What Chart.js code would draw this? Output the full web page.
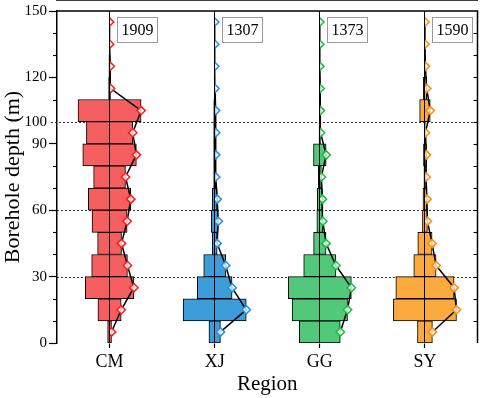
<!DOCTYPE html>
<html><head><meta charset="utf-8">
<script src="https://cdn.jsdelivr.net/npm/chart.js@4/dist/chart.umd.min.js"></script>
<style>html,body{margin:0;padding:0;background:#fff}#wrap{width:484px;height:398px}</style>
</head><body><div id="wrap"><canvas id="c" width="484" height="398"></canvas></div>
<script>
// ---- data ----
const regions = ['CM', 'XJ', 'GG', 'SY'];
const totals = [1909, 1307, 1373, 1590];
const binCenters = [5, 15, 25, 35, 45, 55, 65, 75, 85, 95, 105, 115, 125, 135, 145];
const cmCounts = [18, 108, 226, 166, 111, 163, 197, 148, 249, 215, 293, 9, 6, 0, 0];
const xjCounts = [96, 526, 290, 183, 41, 58, 41, 17, 17, 17, 16, 5, 0, 0, 0];
const ggCounts = [240, 325, 370, 189, 73, 35, 30, 18, 74, 9, 6, 4, 0, 0, 0];
const syCounts = [117, 495, 457, 175, 112, 39, 31, 16, 23, 8, 83, 27, 7, 0, 0];
const yTickLabels = [0, 30, 60, 90, 100, 120, 150];
const dottedDepths = [30, 60, 100];

// ---- styles ----
const barColors = ['#F65F5F', '#3C9DD8', '#52C97A', '#FBAA3E'];
const markColors = ['#FF1A1A', '#1E90E8', '#10C040', '#FF8A00'];
const HALF_MAX = 0.30;
const SERIF = 'Liberation Serif';

const counts = [cmCounts, xjCounts, ggCounts, syCounts];
const datasets = [];
counts.forEach((c, i) => {
  const mx = Math.max(...c);
  datasets.push({
    type: 'bar',
    data: binCenters.map((d, k) => ({ y: d, x: [i - c[k] / mx * HALF_MAX, i + c[k] / mx * HALF_MAX] })),
    backgroundColor: barColors[i], borderColor: '#000', borderWidth: 1, borderSkipped: false,
    grouped: false, barPercentage: 1, categoryPercentage: 1, order: 2
  });
});
counts.forEach((c, i) => {
  const mx = Math.max(...c);
  datasets.push({
    type: 'line', region: i, indexAxis: 'y',
    data: binCenters.map((d, k) => ({ y: d, x: i + c[k] / mx * HALF_MAX })),
    borderColor: '#000', borderWidth: 1.5, fill: false, tension: 0,
    pointStyle: 'rectRot', pointRadius: 4.2, pointBorderWidth: 1.5,
    pointBorderColor: markColors[i], pointBackgroundColor: 'rgba(255,255,255,0.8)', order: 1
  });
});

const decor = {
  id: 'decor',
  beforeDatasetsDraw(chart) {
    const { ctx, chartArea: a } = chart; const ys = chart.scales.y;
    ctx.save(); ctx.strokeStyle = '#222'; ctx.lineWidth = 0.9; ctx.setLineDash([2, 2]);
    dottedDepths.forEach(d => {
      const py = Math.round(ys.getPixelForValue(d)) + 0.5;
      ctx.beginPath(); ctx.moveTo(d % 30 === 0 ? a.left : a.left - 6, py); ctx.lineTo(a.right, py); ctx.stroke();
    });
    ctx.restore();
  },
  beforeDatasetDraw(chart, args) {
    const ds = chart.data.datasets[args.index];
    if (ds.region === undefined) return;
    const { ctx, chartArea: a } = chart;
    const px = chart.scales.x.getPixelForValue(ds.region);
    ctx.save(); ctx.beginPath(); ctx.rect(px, a.top - 6, a.right - px, a.bottom - a.top + 6); ctx.clip();
  },
  afterDatasetDraw(chart, args) {
    const ds = chart.data.datasets[args.index];
    if (ds.region === undefined) return;
    chart.ctx.restore();
  },
  afterDraw(chart) {
    const { ctx, chartArea: a } = chart; const ys = chart.scales.y, xs = chart.scales.x;
    ctx.save();
    ctx.strokeStyle = '#000'; ctx.lineWidth = 1.5;
    ctx.beginPath(); ctx.moveTo(a.left, a.top); ctx.lineTo(a.right, a.top); ctx.lineTo(a.right, a.bottom); ctx.stroke();
    ctx.lineWidth = 1.1;
    for (let v = 10; v < 150; v += 10) {
      const py = Math.round(ys.getPixelForValue(v)) + 0.5;
      if (v % 30 !== 0 && v !== 100) { ctx.beginPath(); ctx.moveTo(a.left - 4, py); ctx.lineTo(a.left, py); ctx.stroke(); }
      ctx.beginPath(); ctx.moveTo(a.right - 4, py); ctx.lineTo(a.right, py); ctx.stroke();
    }
    // count boxes
    ctx.font = '16px "' + SERIF + '"'; ctx.textAlign = 'center'; ctx.textBaseline = 'middle';
    totals.forEach((t, i) => {
      const bx = Math.round(xs.getPixelForValue(i) + 7) + 0.5, by = Math.round(a.top + 6) + 0.5, bw = 40, bh = 25;
      ctx.fillStyle = '#fff'; ctx.fillRect(bx, by, bw, bh);
      ctx.strokeStyle = '#9a9a9a'; ctx.lineWidth = 1; ctx.strokeRect(bx, by, bw, bh);
      ctx.fillStyle = '#000'; ctx.fillText(String(t), bx + bw / 2, by + bh / 2 + 1);
    });
    ctx.restore();
  }
};

new Chart(document.getElementById('c'), {
  type: 'bar',
  data: { datasets },
  options: {
    responsive: false, animation: false, devicePixelRatio: 1, indexAxis: 'y',
    layout: { autoPadding: false, padding: { left: 0, top: 7, right: 6.5, bottom: 0 } },
    plugins: { legend: { display: false }, tooltip: { enabled: false } },
    scales: {
      x: {
        type: 'linear', min: -0.5, max: 3.5, offset: false,
        afterBuildTicks(s) { s.ticks = regions.map((_, i) => ({ value: i })); },
        afterFit(s) { s.height = 55; },
        ticks: { callback: (v) => regions[v] ?? '', color: '#000', font: { family: SERIF, size: 18 }, padding: 3, maxRotation: 0, autoSkip: false },
        grid: { display: true, drawOnChartArea: true, color: '#000', lineWidth: 1, tickLength: 5, tickColor: '#000', tickWidth: 1.2, z: 1, offset: false },
        border: { display: true, color: '#000', width: 1.5 },
        title: { display: true, text: 'Region', font: { family: SERIF, size: 21 }, color: '#000', padding: { top: 0, bottom: 1 } }
      },
      y: {
        type: 'linear', min: 0, max: 150, offset: false, position: 'left',
        afterFit(s) { s.width = 57; },
        ticks: { stepSize: 10, autoSkip: false, padding: 2, color: '#000', font: { family: SERIF, size: 15 },
          callback: (v) => yTickLabels.includes(v) ? String(v) : '' },
        grid: { offset: false, drawOnChartArea: false, drawTicks: true, tickLength: 8, tickWidth: 1.2,
          tickColor: (c) => (c.tick && c.tick.value % 30 === 0) ? '#000' : 'rgba(0,0,0,0)' },
        border: { display: true, color: '#000', width: 1.5 },
        title: { display: true, text: 'Borehole depth (m)', font: { family: SERIF, size: 22 }, color: '#000', padding: { top: 0, bottom: 0 } }
      }
    }
  },
  plugins: [decor]
});
</script></body></html>
